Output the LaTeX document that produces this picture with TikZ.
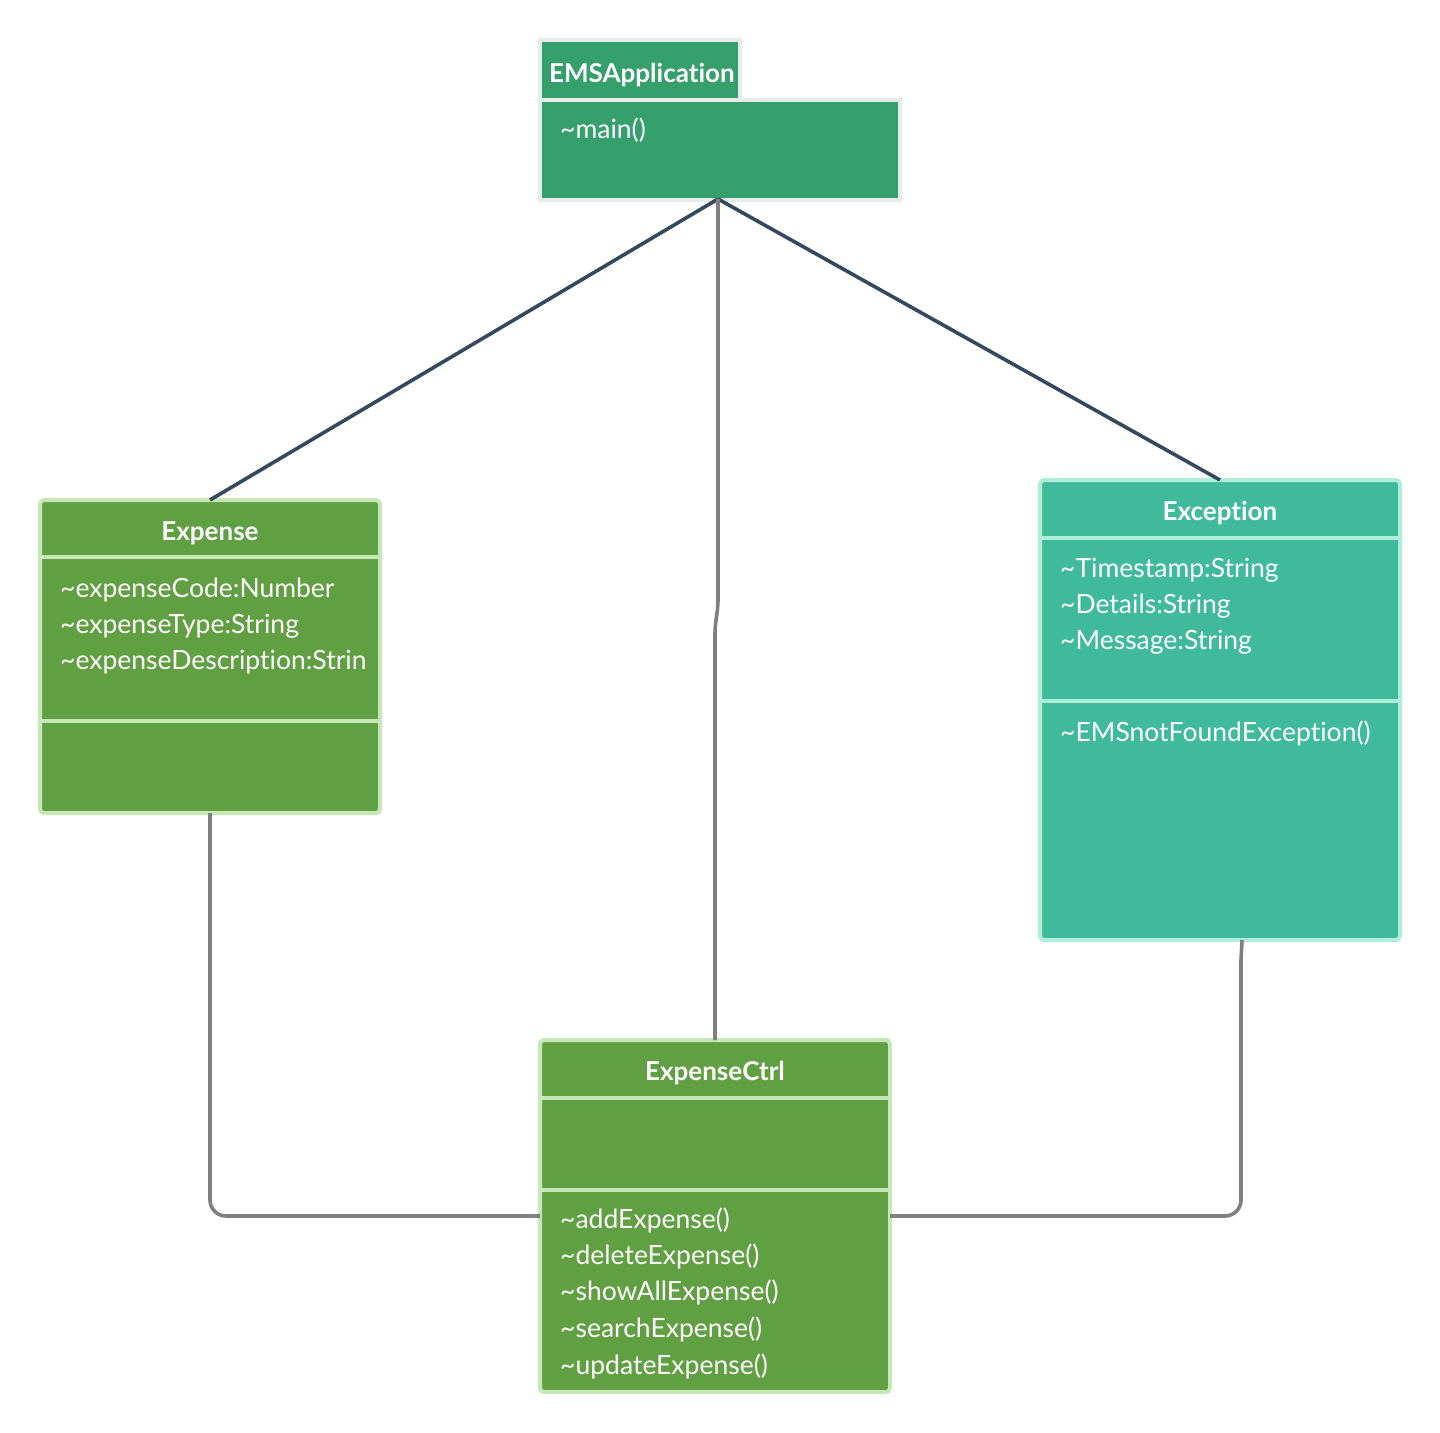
\documentclass[tikz,border=0pt]{standalone}
\usepackage{fontspec}
\setmainfont[Ligatures={NoCommon}]{Lato}
\newcommand\tl{\textasciitilde}
\definecolor{appfill}{HTML}{35A06C}
\definecolor{appborder}{HTML}{E6ECE9}
\definecolor{grnfill}{HTML}{61A042}
\definecolor{grnborder}{HTML}{C6E8B8}
\definecolor{tealfill}{HTML}{3FBB9C}
\definecolor{tealborder}{HTML}{AEEEDB}
\definecolor{navy}{HTML}{34495E}
\definecolor{wire}{HTML}{808080}
\begin{document}
\begin{tikzpicture}[x=1pt,y=-1pt,
  classbox/.style n args={2}{draw=#2, fill=#1, line width=4pt, rounded corners=4pt, inner sep=0pt, outer sep=0pt, anchor=north west},
  appbox/.style={draw=appborder, fill=appfill, line width=4pt, inner sep=0pt, outer sep=0pt, anchor=north west},
  divider/.style={draw=#1, line width=4pt},
  title/.style={text=white, font=\bfseries\fontsize{26}{30}\selectfont, inner sep=0pt},
  member/.style={text=white, font=\fontsize{26.5}{30}\selectfont, inner sep=0pt, anchor=base west},
  assoc/.style={draw=navy, line width=3.6pt},
  link/.style={draw=wire, line width=3.6pt, rounded corners=16pt}]
\useasboundingbox (0,0) rectangle (1440,1432);
\fill[white] (0,0) rectangle (1440,1432);

% EMSApplication
\node[appbox, minimum width=200pt, minimum height=60pt] (apptitle) at (540,40) {};
\node[appbox, minimum width=360pt, minimum height=100pt] (app) at (540,100) {};
\node[title, anchor=base west] (appname) at (549,82) {EMSApplication};
\node[member] (appm1) at (560,138) {\tl main()};

% Expense
\node[classbox={grnfill}{grnborder}, minimum width=340pt, minimum height=313pt] (expense) at (40,500) {};
\draw[divider=grnborder] (40,557) -- (380,557);
\draw[divider=grnborder] (40,721) -- (380,721);
\node[title, anchor=base] (expname) at (210,540) {Expense};
\node[member] (ea1) at (60,597) {\tl expenseCode:Number};
\node[member] (ea2) at (60,633) {\tl expenseType:String};
\node[member] (ea3) at (60,669) {\tl expenseDescription:Strin};

% Exception
\node[classbox={tealfill}{tealborder}, minimum width=360pt, minimum height=460pt] (exception) at (1040,480) {};
\draw[divider=tealborder] (1040,538) -- (1400,538);
\draw[divider=tealborder] (1040,701) -- (1400,701);
\node[title, anchor=base] (excname) at (1220,520) {Exception};
\node[member] (xa1) at (1060,577) {\tl Timestamp:String};
\node[member] (xa2) at (1060,613) {\tl Details:String};
\node[member] (xa3) at (1060,649) {\tl Message:String};
\node[member] (xm1) at (1060,741) {\tl EMSnotFoundException()};

% ExpenseCtrl
\node[classbox={grnfill}{grnborder}, minimum width=350pt, minimum height=352pt] (ctrl) at (540,1040) {};
\draw[divider=grnborder] (540,1098) -- (890,1098);
\draw[divider=grnborder] (540,1190) -- (890,1190);
\node[title, anchor=base] (ctrlname) at (715,1080) {ExpenseCtrl};
\node[member] (cm1) at (560,1228) {\tl addExpense()};
\node[member] (cm2) at (560,1264) {\tl deleteExpense()};
\node[member] (cm3) at (560,1300) {\tl showAllExpense()};
\node[member] (cm4) at (560,1337) {\tl searchExpense()};
\node[member] (cm5) at (560,1374) {\tl updateExpense()};

% connectors
\coordinate (apphub) at (718,199);
\coordinate (bendA) at (718,598);
\coordinate (bendB) at (715,635);
\coordinate (excfoot) at (1242,940);
\coordinate (excside) at (1241,960);
\draw[assoc] (apphub) -- (expense.north);
\draw[assoc] (apphub) -- (exception.north);
\draw[link] (apphub) -- (bendA);
\draw[draw=wire, line width=3.6pt] (bendA) .. controls (718,615) and (715,618) .. (bendB) -- (ctrl.north);
\draw[link] (expense.south) |- (ctrl.west);
\draw[link] (ctrl.east) -| (excside);
\draw[draw=wire, line width=3.6pt] (excside) -- (excfoot);
\end{tikzpicture}
\end{document}
